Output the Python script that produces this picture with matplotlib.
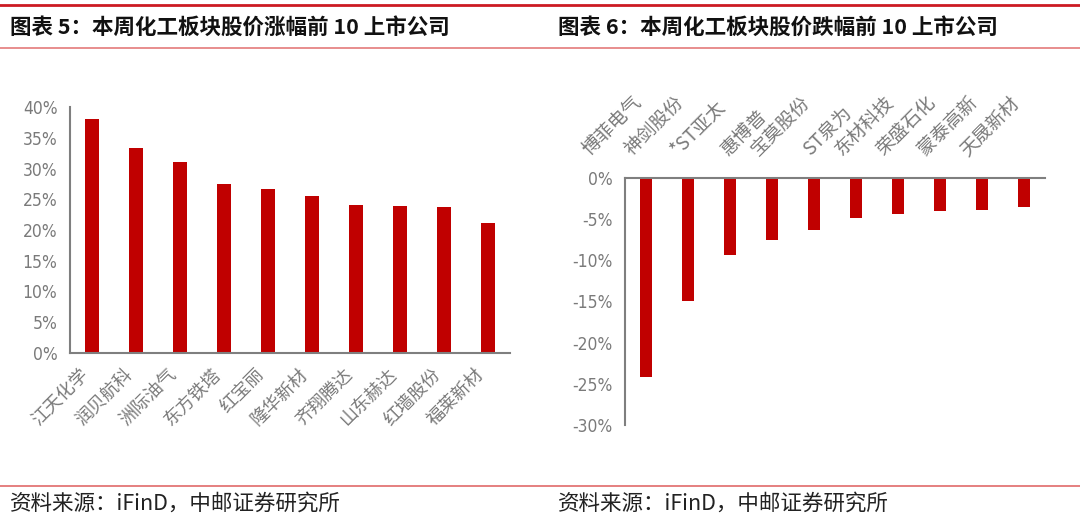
import matplotlib
matplotlib.use("Agg")
import matplotlib.pyplot as plt
from matplotlib.lines import Line2D
from matplotlib.ticker import FuncFormatter
from matplotlib import font_manager

plt.rcParams['font.family'] = ['Noto Sans CJK SC', 'DejaVu Sans']

# 涨幅前10
up_names = ['江天化学', '润贝航科', '洲际油气', '东方铁塔', '红宝丽',
            '隆华新材', '齐翔腾达', '山东赫达', '红墙股份', '福莱新材']
up_values = [38.05, 33.4, 31.0, 27.4, 26.7, 25.6, 24.1, 23.9, 23.7, 21.1]

# 跌幅前10
down_names = ['博菲电气', '神剑股份', '*ST亚太', '惠博普', '宝莫股份',
              'ST泉为', '东材科技', '荣盛石化', '蒙泰高新', '天晟新材']
down_values = [-24.2, -15.0, -9.4, -7.5, -6.3, -4.9, -4.4, -4.0, -3.9, -3.5]

bar_color = '#C00000'
axis_color = '#7F7F7F'
text_gray = '#7A7A7A'

# 数字刻度用窄体字（找不到就用 Liberation Sans）
num_font = 'Liberation Sans'
num_stretch = 'normal'
for f in font_manager.fontManager.ttflist:
    if f.name == 'Liberation Sans Narrow':
        num_font, num_stretch = 'Liberation Sans Narrow', 'normal'
        break
    if f.name == 'DejaVu Sans' and 'ondensed' in f.fname and 'Bold' not in f.fname \
            and 'Oblique' not in f.fname:
        num_font, num_stretch = 'DejaVu Sans', 'condensed'

fig = plt.figure(figsize=(10.8, 5.26), dpi=100)

# 标题与分隔线
fig.add_artist(Line2D([0, 1], [1 - 5 / 526, 1 - 5 / 526], color='#CC1A22', lw=2.0,
                      transform=fig.transFigure))
fig.add_artist(Line2D([0, 1], [1 - 48 / 526, 1 - 48 / 526], color='#E47A7A', lw=1.2,
                      transform=fig.transFigure))
fig.add_artist(Line2D([0, 1], [1 - 486 / 526, 1 - 486 / 526], color='#E06A6A', lw=1.2,
                      transform=fig.transFigure))
fig.text(10 / 1080, 1 - 27 / 526, '图表 5：本周化工板块股价涨幅前 10 上市公司',
         fontsize=15.5, fontweight='bold', color='#111111', va='center', ha='left')
fig.text(558 / 1080, 1 - 27 / 526, '图表 6：本周化工板块股价跌幅前 10 上市公司',
         fontsize=15.5, fontweight='bold', color='#111111', va='center', ha='left')
fig.text(10 / 1080, 1 - 504 / 526, '资料来源：iFinD，中邮证券研究所',
         fontsize=15.5, color='#222222', va='center', ha='left')
fig.text(558 / 1080, 1 - 504 / 526, '资料来源：iFinD，中邮证券研究所',
         fontsize=15.5, color='#222222', va='center', ha='left')

pct = FuncFormatter(lambda v, p: f'{v:.0f}%')


def style_yticks(ax):
    for lab in ax.get_yticklabels():
        lab.set_family(num_font)
        lab.set_stretch(num_stretch)
        lab.set_color(text_gray)
        lab.set_fontsize(12.5)


# 左图：涨幅
ax1 = fig.add_axes([70 / 1080, 1 - 353 / 526, 440 / 1080, 246 / 526])
x1 = range(len(up_names))
ax1.bar(x1, up_values, width=0.3, color=bar_color)
ax1.set_xlim(-0.5, len(up_names) - 0.5)
ax1.set_ylim(0, 40)
ax1.set_yticks(range(0, 41, 5))
ax1.set_yticklabels([pct(v, None) for v in range(0, 41, 5)])
ax1.set_xticks(list(x1))
ax1.set_xticklabels(up_names, rotation=45, ha='right', va='top',
                    fontsize=13, color=text_gray)
for s in ['top', 'right']:
    ax1.spines[s].set_visible(False)
for s in ['left', 'bottom']:
    ax1.spines[s].set_color(axis_color)
    ax1.spines[s].set_linewidth(1.5)
ax1.tick_params(axis='both', length=0)
ax1.tick_params(axis='x', pad=9)
ax1.tick_params(axis='y', pad=9)
style_yticks(ax1)

# 右图：跌幅
ax2 = fig.add_axes([625 / 1080, 1 - 425 / 526, 420 / 1080, 247 / 526])
x2 = range(len(down_names))
ax2.bar(x2, down_values, width=0.3, color=bar_color)
ax2.set_xlim(-0.5, len(down_names) - 0.5)
ax2.set_ylim(-30, 0)
ax2.set_yticks(range(-30, 1, 5))
ax2.set_yticklabels([pct(v, None) for v in range(-30, 1, 5)])
ax2.xaxis.tick_top()
ax2.set_xticks(list(x2))
ax2.set_xticklabels(down_names, rotation=45, ha='right', va='bottom',
                    fontsize=13.5, color=text_gray)
for s in ['bottom', 'right']:
    ax2.spines[s].set_visible(False)
for s in ['left', 'top']:
    ax2.spines[s].set_color(axis_color)
    ax2.spines[s].set_linewidth(1.5)
ax2.tick_params(axis='both', length=0)
ax2.tick_params(axis='x', pad=13)
ax2.tick_params(axis='y', pad=9)
style_yticks(ax2)

fig.savefig('out.png', dpi=100)
